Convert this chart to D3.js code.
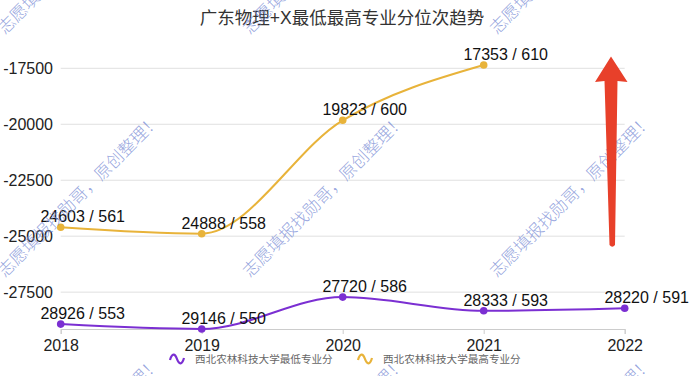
<!DOCTYPE html>
<html>
<head>
<meta charset="utf-8">
<script src="https://cdn.jsdelivr.net/npm/d3@7"></script>
<style>
  html, body { margin: 0; padding: 0; background: #fff; }
  svg { display: block; font-family: "Liberation Sans", "Noto Sans CJK SC", sans-serif; }
</style>
</head>
<body>
<svg width="700" height="376"></svg>
<script>
const years = ['2018', '2019', '2020', '2021', '2022']
const lowRank = [28926, 29146, 27720, 28333, 28220]
const lowScore = [553, 550, 586, 593, 591]
const highRank = [24603, 24888, 19823, 17353, null]
const highScore = [561, 558, 600, 610, null]
const yTicks = [-17500, -20000, -22500, -25000, -27500]
const seriesNames = ['西北农林科技大学最低专业分', '西北农林科技大学最高专业分']
const title = '广东物理+X最低最高专业分位次趋势'
const watermark = '志愿填报找勋哥，原创整理！'

const purple = '#7b2fd2'
const gold = '#e8b33a'

const svg = d3.select('svg')

const x = d3.scalePoint().domain(years).range([60.7, 624.7])
const allRanks = lowRank.concat(highRank).filter(v => v != null).map(v => -v)
const y = d3.scaleLinear().domain([d3.min(allRanks), d3.max(allRanks)]).range([329, 65])

// title
svg.append('text')
  .attr('x', 342).attr('y', 24)
  .attr('text-anchor', 'middle')
  .attr('font-size', 17.5)
  .attr('fill', '#333')
  .text(title)

// grid lines + y labels
svg.append('g')
  .selectAll('line')
  .data(yTicks)
  .join('line')
  .attr('x1', x('2018')).attr('x2', x('2022'))
  .attr('y1', d => y(d)).attr('y2', d => y(d))
  .attr('stroke', '#e0e0e0')

svg.append('g')
  .selectAll('text')
  .data(yTicks)
  .join('text')
  .attr('x', 53).attr('y', d => y(d) + 6)
  .attr('text-anchor', 'end')
  .attr('font-size', 16)
  .attr('fill', '#222')
  .text(d => d)

// x axis
const xAxis = svg.append('g')
  .attr('transform', 'translate(0,' + y.range()[0] + ')')
  .call(d3.axisBottom(x).tickSize(5).tickPadding(6))
xAxis.select('.domain').attr('stroke', '#ccc')
xAxis.selectAll('.tick line').attr('stroke', '#ccc')
xAxis.selectAll('.tick text')
  .attr('font-size', 16)
  .attr('font-family', '"Liberation Sans", sans-serif')
  .attr('fill', '#222')

// series
const series = [
  { rank: lowRank, score: lowScore, color: purple },
  { rank: highRank, score: highScore, color: gold },
]

const line = d3.line()
  .defined(d => d.rank != null)
  .x(d => x(d.year))
  .y(d => y(-d.rank))
  .curve(d3.curveMonotoneX)

series.forEach(s => {
  const pts = years.map((year, i) => ({ year, rank: s.rank[i], score: s.score[i] }))
  const valid = pts.filter(d => d.rank != null)

  svg.append('path')
    .datum(pts)
    .attr('fill', 'none')
    .attr('stroke', s.color)
    .attr('stroke-width', 2)
    .attr('d', line)

  svg.append('g')
    .selectAll('circle')
    .data(valid)
    .join('circle')
    .attr('cx', d => x(d.year))
    .attr('cy', d => y(-d.rank))
    .attr('r', 3.8)
    .attr('fill', s.color)

  svg.append('g')
    .selectAll('text')
    .data(valid)
    .join('text')
    .attr('x', d => x(d.year) + 22)
    .attr('y', d => y(-d.rank) - 5)
    .attr('text-anchor', 'middle')
    .attr('font-size', 16)
    .attr('fill', '#111')
    .text(d => d.rank + ' / ' + d.score)
})

// legend
const legend = svg.append('g')
  .selectAll('g')
  .data(seriesNames)
  .join('g')
  .attr('transform', (d, i) => 'translate(' + (170 + i * 188) + ',359)')

legend.append('path')
  .attr('d', 'M0,1 C2,-6 5,-6 7,0 S12,6 14,-1')
  .attr('fill', 'none')
  .attr('stroke', (d, i) => series[i].color)
  .attr('stroke-width', 2.2)

legend.append('text')
  .attr('x', 25).attr('y', 4)
  .attr('font-size', 10.6)
  .attr('fill', '#666')
  .text(d => d)

// watermark
const marks = []
;[5, 250, 497].forEach(wx => [35, 278, 521].forEach(wy => marks.push([wx, wy])))
svg.append('g')
  .selectAll('text')
  .data(marks)
  .join('text')
  .attr('transform', d => 'translate(' + d[0] + ',' + d[1] + ') rotate(-45)')
  .attr('font-size', 17)
  .attr('fill', '#7d8fd6')
  .attr('fill-opacity', 0.8)
  .attr('font-family', '"Noto Sans CJK SC", sans-serif')
  .attr('font-weight', 300)
  .text(watermark)

// red arrow
svg.append('path')
  .attr('d', 'M611,56.5 L627.5,82 L617.5,81 L615,245 Q612.3,248.5 609.5,245 L604.5,81 L595,82 Z')
  .attr('fill', '#e8402a')
</script>
</body>
</html>
